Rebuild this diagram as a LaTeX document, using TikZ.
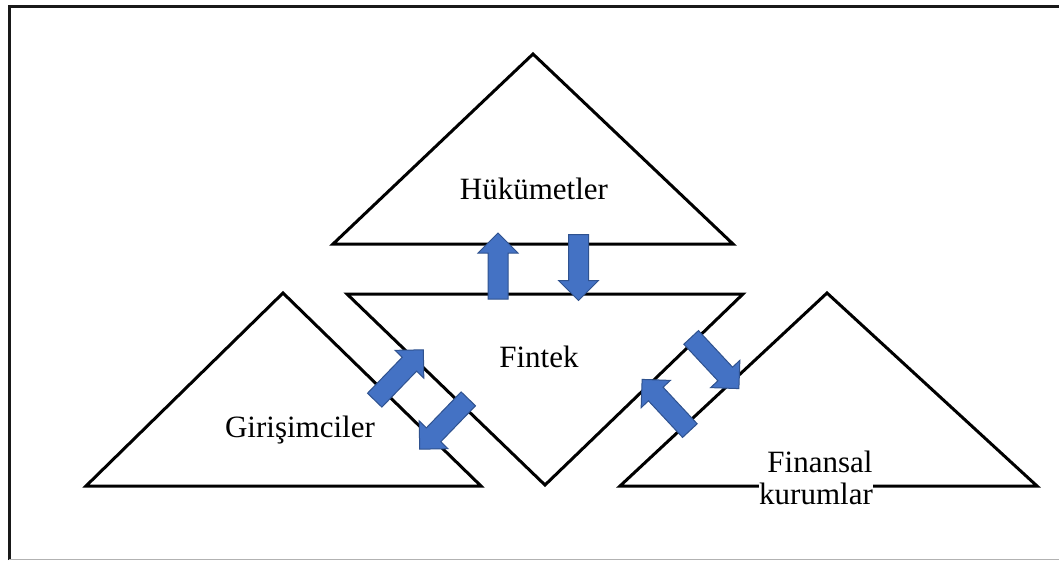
\documentclass[tikz,border=0pt]{standalone}
\usepackage{fontspec}
\setmainfont{Liberation Serif}
\begin{document}
\begin{tikzpicture}[x=1pt,y=-1pt,
  tri/.style={draw=black,line width=3pt,fill=white,line join=miter},
  lbl/.style={font=\fontsize{31}{33}\selectfont,align=center,inner sep=0pt},
  arrowbody/.style={fill=arrowblue,draw=arrowedge,line width=1pt,line join=miter},
  blockarrow/.pic={
    \path[arrowbody] (-\arrlen/2,-10) -- (\arrlen/2-20,-10) -- (\arrlen/2-20,-20)
      -- (\arrlen/2,0) -- (\arrlen/2-20,20) -- (\arrlen/2-20,10)
      -- (-\arrlen/2,10) -- cycle;
  }]
\definecolor{arrowblue}{HTML}{4472C4}
\definecolor{arrowedge}{HTML}{2F528F}
\def\arrlen{66}
\useasboundingbox (0,0) rectangle (1059,560);

% frame
\draw[line width=3pt,black!90] (9,560) -- (9,6) -- (1062,6);
\draw[line width=1pt,black!30] (9,559) -- (1062,559);

% the four triangles
\draw[tri] (333,244) -- (533,54) -- (733,244) -- cycle;
\draw[tri] (347,294) -- (743,294) -- (545,485) -- cycle;
\draw[tri] (86,486) -- (283,293) -- (481,486) -- cycle;
\draw[tri] (620,486) -- (827,293) -- (1037,486) -- cycle;

% labels
\node[lbl] (gov) at (534,189) {Hükümetler};
\node[lbl] (fin) at (539,357) {Fintek};
\node[lbl] (ent) at (300,430) {Girişimciler};
\node[lbl] (inst1) at (820,462) {Finansal};
\node[lbl,fill=white] (inst2) at (816,494) {kurumlar};

% exchange arrows
\pic[rotate=90] at (498,266) {blockarrow};
\pic[rotate=-90] at (578.5,267.5) {blockarrow};
\def\arrlen{70}
\pic[rotate=46] at (399,375) {blockarrow};
\pic[rotate=-134] at (444,424) {blockarrow};
\pic[rotate=-47] at (715,363) {blockarrow};
\pic[rotate=133] at (666,405) {blockarrow};
\end{tikzpicture}
\end{document}
